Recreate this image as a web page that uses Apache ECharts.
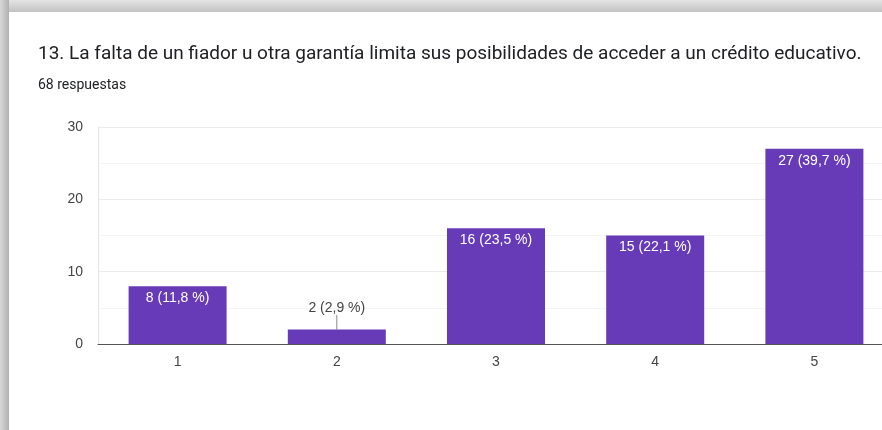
<!DOCTYPE html>
<html>
<head>
<meta charset="utf-8">
<script src="https://cdn.jsdelivr.net/npm/echarts@6/dist/echarts.min.js"></script>
<style>
  html, body { margin: 0; padding: 0; background: #fff; overflow: hidden; width: 882px; height: 430px; }
  /* the plot runs slightly past the right edge of the window */
  #chart { width: 900px; height: 430px; }
</style>
</head>
<body>
<div id="chart"></div>
<script>
// Survey question and response summary
const questionTitle = '13. La falta de un fiador u otra garantía limita sus posibilidades de acceder a un crédito educativo.';
const responseCount = '68 respuestas';

// Likert scale answers (1–5) and how many people picked each
const categories = ['1', '2', '3', '4', '5'];
const counts = [8, 2, 16, 15, 27];
const percents = ['11,8', '2,9', '23,5', '22,1', '39,7'];

// Y axis ticks
const yTicks = [0, 10, 20, 30];

const TITLE_FONT = 'Roboto, "Noto Sans", Arial, sans-serif';
const CHART_FONT = '"Liberation Sans", Arial, sans-serif';
const PURPLE = '#673ab7';

// Bars too short to hold their label get it placed above with a guide line
const SMALL_BAR = 4;

const seriesData = counts.map((v, i) => {
  const text = v + ' (' + percents[i] + ' %)';
  if (v < SMALL_BAR) {
    return {
      value: v,
      label: {
        show: true,
        position: 'top',
        distance: 0,
        color: '#444',
        align: 'center',
        lineHeight: 14,
        formatter: text + '\n{guide|}',
        rich: {
          guide: { width: 1, height: 15, backgroundColor: '#8a8a8a' }
        }
      }
    };
  }
  return {
    value: v,
    label: {
      show: true,
      position: 'insideTop',
      distance: 5,
      color: '#fff',
      formatter: text
    }
  };
});

const chart = echarts.init(document.getElementById('chart'), null, { renderer: 'canvas' });

chart.setOption({
  animation: false,
  backgroundColor: '#fff',
  textStyle: { fontFamily: CHART_FONT },
  graphic: [
    // card shadow along the top edge
    {
      type: 'rect', left: 0, top: 0, z: 100,
      shape: { width: 900, height: 12 },
      style: {
        fill: new echarts.graphic.LinearGradient(0, 0, 0, 1, [
          { offset: 0, color: '#e4e4e4' },
          { offset: 1, color: '#c2c2c2' }
        ])
      }
    },
    // card shadow along the left edge
    {
      type: 'rect', left: 0, top: 0, z: 101,
      shape: { width: 9, height: 430 },
      style: {
        fill: new echarts.graphic.LinearGradient(0, 0, 1, 0, [
          { offset: 0, color: '#d8d8d8' },
          { offset: 1, color: '#b0b0b0' }
        ])
      }
    }
  ],
  title: [
    {
      text: questionTitle,
      left: 33, top: 40,
      padding: 5,
      textStyle: { fontFamily: TITLE_FONT, fontSize: 19, fontWeight: 'normal', color: '#202124' }
    },
    {
      text: responseCount,
      left: 33, top: 73,
      padding: 5,
      textStyle: { fontFamily: TITLE_FONT, fontSize: 14, fontWeight: 'normal', color: '#202124' }
    }
  ],
  grid: {
    left: 98,
    top: 127,
    width: 796,
    height: 217,
    containLabel: false
  },
  xAxis: {
    type: 'category',
    data: categories,
    axisTick: { show: false },
    axisLine: { lineStyle: { color: '#555', width: 1 } },
    axisLabel: { color: '#444', fontSize: 14, margin: 11, fontFamily: CHART_FONT },
    splitLine: { show: false }
  },
  yAxis: {
    type: 'value',
    min: yTicks[0],
    max: yTicks[yTicks.length - 1],
    interval: 10,
    axisLine: { show: true, lineStyle: { color: '#e6e6e6' } },
    axisTick: { show: false },
    axisLabel: { color: '#444', fontSize: 14, margin: 15, fontFamily: CHART_FONT },
    splitLine: { lineStyle: { color: '#ebebeb' } },
    minorTick: { show: false, splitNumber: 2 },
    minorSplitLine: { show: true, lineStyle: { color: '#f4f4f4' } }
  },
  series: [{
    type: 'bar',
    data: seriesData,
    barWidth: 98,
    itemStyle: { color: PURPLE },
    label: { fontFamily: CHART_FONT, fontSize: 14 }
  }]
});
</script>
</body>
</html>
